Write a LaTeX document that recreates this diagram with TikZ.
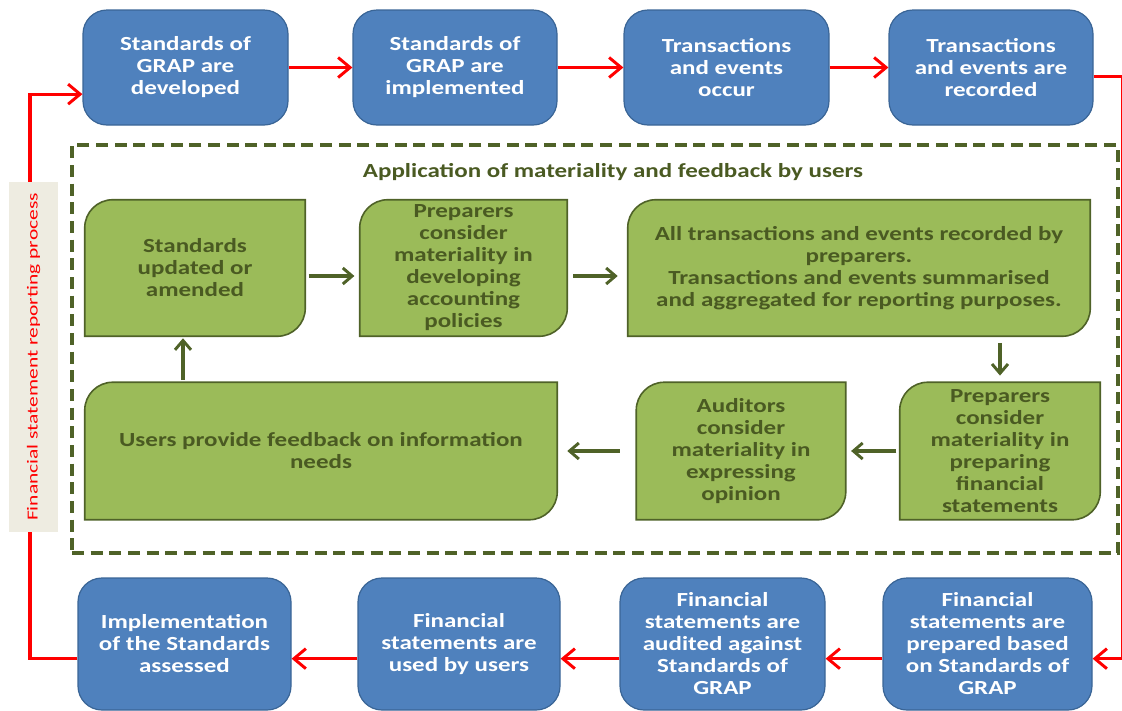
\documentclass[tikz,border=0pt]{standalone}
\usepackage{fontspec}
\setmainfont{Carlito}[FakeStretch=1.25]
\newfontfamily\sidefont{Carlito}[FakeStretch=1.4]
\usetikzlibrary{arrows.meta,calc}
\definecolor{bfill}{HTML}{4F81BD}
\definecolor{bline}{HTML}{3A6596}
\definecolor{gfill}{HTML}{9BBB59}
\definecolor{gline}{HTML}{4F6228}
\definecolor{gtext}{HTML}{4A5A22}
\definecolor{lblfill}{HTML}{EEECE1}
\pgfdeclarelayer{bg}
\pgfsetlayers{bg,main}
\begin{document}
\begin{tikzpicture}[x=0.75pt,y=-0.75pt,
  sz/.style 2 args={minimum width=#1*0.75pt, minimum height=#2*0.75pt},
  bluebox/.style={draw=bline, line width=0.9pt, fill=bfill, rounded corners=18pt,
    text=white, font=\bfseries\fontsize{15}{16.5}\selectfont, align=center, inner sep=0pt},
  greenbox/.style={text=gtext, font=\bfseries\fontsize{15}{16.5}\selectfont, align=center, inner sep=0pt},
  gshape/.style={draw=gline, line width=1.2pt, fill=gfill},
  redarrow/.style={draw=red, line width=2.4pt, -{Straight Barb[length=9pt,width=15pt,line width=2.2pt]}},
  grarrow/.style={draw=gline, line width=2.6pt, -{Straight Barb[length=7pt,width=12pt,line width=2.2pt]}},
  titletext/.style={text=gtext, font=\bfseries\fontsize{15}{16.5}\selectfont},
  sidelabel/.style={fill=lblfill, text=red, font=\sidefont\fontsize{11.5}{13}\selectfont, inner sep=0pt, rotate=90},
  frame/.style={draw=gline, line width=3pt, dash pattern=on 9pt off 5pt}
]
\useasboundingbox (0,0) rectangle (1122,711);

% top row
\node[bluebox, sz={205}{115}] (b1) at (185.5,67.5) {Standards of\\GRAP are\\developed};
\node[bluebox, sz={204}{115}] (b2) at (455,67.5) {Standards of\\GRAP are\\implemented};
\node[bluebox, sz={205}{115}] (b3) at (726.5,67.5) {Transactions\\and events\\occur};
\node[bluebox, sz={204}{115}] (b4) at (991,67.5) {Transactions\\and events are\\recorded};

% bottom row
\node[bluebox, sz={213}{132}] (b5) at (184.5,644) {Implementation\\of the Standards\\assessed};
\node[bluebox, sz={202}{132}] (b6) at (459,644) {Financial\\statements are\\used by users};
\node[bluebox, sz={205}{132}] (b7) at (722.5,644) {Financial\\statements are\\audited against\\Standards of\\GRAP};
\node[bluebox, sz={209}{132}] (b8) at (987.5,644) {Financial\\statements are\\prepared based\\on Standards of\\GRAP};

% dashed frame and title
\node[frame, sz={1046}{408}, inner sep=0pt] (fr) at (595,349) {};
\node[titletext] (title) at (613,172) {Application of materiality and feedback by users};

% green boxes
\node[greenbox, sz={220}{136}] (g1) at (195,268) {Standards\\updated or\\amended};
\node[greenbox, sz={207}{136}] (g2) at (463.5,268) {Preparers\\consider\\materiality in\\developing\\accounting\\policies};
\node[greenbox, sz={462}{136}] (g3) at (859,268) {All transactions and events recorded by\\preparers.\\Transactions and events summarised\\and aggregated for reporting purposes.};
\node[greenbox, sz={200}{137}] (g4) at (1000,451) {Preparers\\consider\\materiality in\\preparing\\financial\\statements};
\node[greenbox, sz={209}{137}] (g5) at (741,451) {Auditors\\consider\\materiality in\\expressing\\opinion};
\node[greenbox, sz={472}{137}] (g6) at (321,451) {Users provide feedback on information\\needs};

\begin{pgfonlayer}{bg}
\foreach \g in {g1,g2,g3,g4,g5,g6}{
  \draw[gshape] (\g.south west) -- ([yshift=-21pt]\g.north west)
    arc[start angle=180,end angle=90,radius=21pt] -- (\g.north east)
    -- ([yshift=21pt]\g.south east)
    arc[start angle=0,end angle=-90,radius=21pt] -- cycle;
}
\end{pgfonlayer}

% green arrows
\draw[grarrow, shorten <=2.5pt, shorten >=4pt] ([yshift=-6pt]g1.east) -- ([yshift=-6pt]g2.west);
\draw[grarrow, shorten <=4.5pt, shorten >=7.5pt] ([yshift=-6pt]g2.east) -- ([yshift=-6pt]g3.west);
\draw[grarrow, shorten <=5pt, shorten >=5pt] (g3.south -| g4.north) -- (g4.north);
\draw[grarrow, shorten <=2.5pt, shorten >=4pt] (g4.west) -- (g5.east);
\draw[grarrow, shorten <=12.5pt, shorten >=7.5pt] (g5.west) -- (g6.east);
\coordinate (up) at (183,0);
\draw[grarrow, shorten <=1.5pt, shorten >=1.5pt] (up |- g6.north) -- (up |- g1.south);

% red connectors
\draw[redarrow] (b1.east) -- (b2.west);
\draw[redarrow] (b2.east) -- (b3.west);
\draw[redarrow] (b3.east) -- (b4.west);
\coordinate (rt) at (1122.5,0);
\coordinate (lf) at (30,0);
\coordinate (b4o) at ([yshift=-7pt]b4.east);
\coordinate (b8i) at ([yshift=-11pt]b8.east);
\coordinate (b7i) at ([yshift=-11pt]b7.east);
\coordinate (b8o) at ([yshift=-11pt]b8.west);
\coordinate (b6i) at ([yshift=-11pt]b6.east);
\coordinate (b7o) at ([yshift=-11pt]b7.west);
\coordinate (b5i) at ([yshift=-11pt]b5.east);
\coordinate (b6o) at ([yshift=-11pt]b6.west);
\coordinate (b5o) at ([yshift=-11pt]b5.west);
\coordinate (b1i) at ([yshift=-20pt]b1.west);
\draw[redarrow] (b4o) -- (b4o -| rt) -- (b8i -| rt) -- (b8i);
\draw[redarrow] (b8o) -- (b7i);
\draw[redarrow] (b7o) -- (b6i);
\draw[redarrow] (b6o) -- (b5i);
\draw[redarrow] (b5o) -- (b5o -| lf) -- (b1i -| lf) -- (b1i);

% side label
\node[sidelabel, minimum width=350*0.75pt, minimum height=49*0.75pt] (side) at (33.5,357) {Financial statement reporting process};
\end{tikzpicture}
\end{document}
